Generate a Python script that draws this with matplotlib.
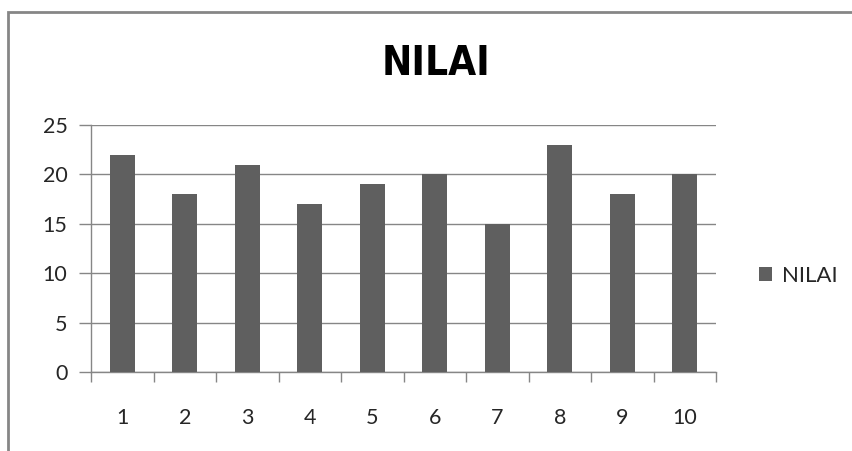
import matplotlib
matplotlib.use("Agg")
import matplotlib.pyplot as plt
from matplotlib.patches import Rectangle

# values per item
categories = ["1", "2", "3", "4", "5", "6", "7", "8", "9", "10"]
nilai = [22, 18, 21, 17, 19, 20, 15, 23, 18, 20]
y_ticks = [0, 5, 10, 15, 20, 25]

bar_color = "#5f5f5f"
grid_color = "#868686"
text_color = "#262626"
label_font = ["Lato", "DejaVu Sans"]

fig = plt.figure(figsize=(8.53, 4.51), dpi=100)
ax = fig.add_axes([91 / 853, 1 - 372 / 451, (716 - 91) / 853, (372 - 125) / 451])

x = list(range(len(categories)))
ax.bar(x, nilai, width=0.4, color=bar_color, zorder=3, label="NILAI")

ax.set_xlim(-0.5, len(categories) - 0.5)
ax.set_ylim(0, 25)
ax.set_yticks(y_ticks)
ax.set_yticklabels([str(v) for v in y_ticks], fontfamily=label_font, fontsize=15.5, color=text_color)

# category labels centred, tick marks on the boundaries between categories
ax.set_xticks(x)
ax.set_xticklabels(categories, fontfamily=label_font, fontsize=15.5, color=text_color)
ax.tick_params(axis="x", length=0, pad=26)
ax.set_xticks([i - 0.5 for i in range(len(categories) + 1)], minor=True)
ax.tick_params(axis="x", which="minor", length=7, width=1, color=grid_color, direction="out")
ax.tick_params(axis="y", length=9, width=1, color=grid_color, pad=8)

ax.grid(axis="y", color=grid_color, linewidth=1, zorder=0)
for side in ["top", "right"]:
    ax.spines[side].set_visible(False)
for side in ["left", "bottom"]:
    ax.spines[side].set_color(grid_color)
    ax.spines[side].set_linewidth(1)

fig.text(436 / 853, 1 - 64 / 451, "NILAI", ha="center", va="center",
         fontsize=29, fontweight="bold", fontstretch="condensed",
         fontfamily=["DejaVu Sans"], color="black")

fig.legend(loc="center left", bbox_to_anchor=(759 / 853, 1 - 276 / 451), frameon=False,
           borderpad=0, borderaxespad=0,
           prop={"family": label_font, "size": 16}, handlelength=0.6, handleheight=0.6,
           handletextpad=0.45, labelcolor=text_color)

# chart border
fig.patches.append(Rectangle((8 / 853, -0.1), 1.2, 1 - 12 / 451 + 0.1, transform=fig.transFigure,
                             fill=False, edgecolor="#868686", linewidth=2))

fig.savefig("out.png", dpi=100)
